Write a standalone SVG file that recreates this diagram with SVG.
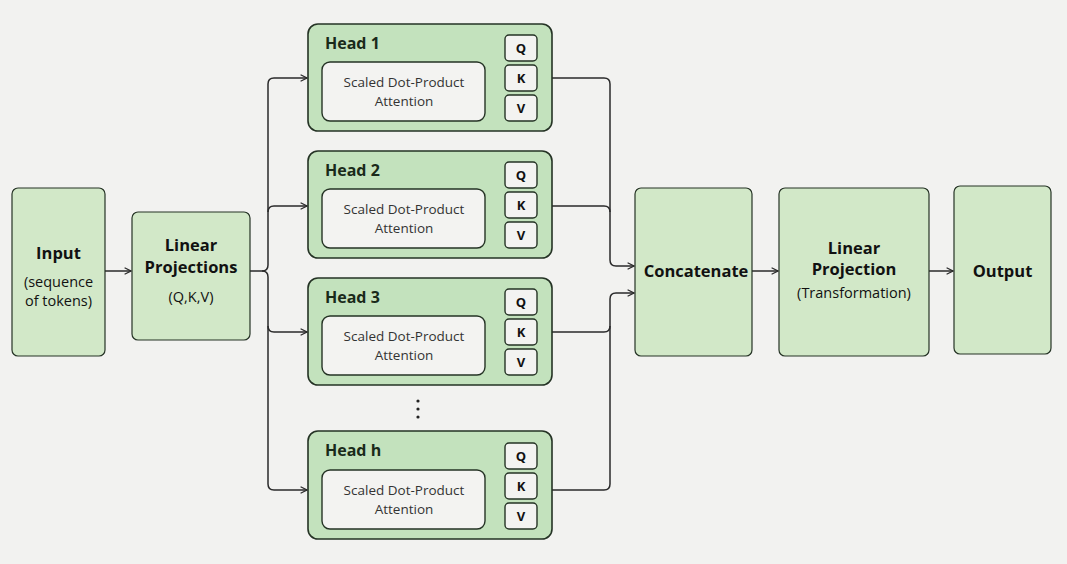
<svg xmlns="http://www.w3.org/2000/svg" width="1067" height="564" viewBox="0 0 1067 564">
<defs>
<style>
.b{fill:#d2e8c8;stroke:#253325;stroke-width:1.2}
.h{fill:#c3e2bd;stroke:#253325;stroke-width:1.6}
.in{fill:#f3f3f1;stroke:#253325;stroke-width:1.4}
.q{fill:#f3f3f1;stroke:#253325;stroke-width:1.4}
text{font-family:"Open Sans","Noto Sans",sans-serif;fill:#111;text-anchor:middle}
.t{font-size:16.5px;font-weight:bold}
.s{font-size:14.5px}
.ht{font-size:16px;font-weight:bold;text-anchor:start;fill:#1a2a1a}
.a{font-size:13.5px;fill:#333}
.k{font-size:13px;font-weight:bold}
.c{fill:none;stroke:#2a2a2a;stroke-width:1.5}
</style>
<marker id="ar" viewBox="0 0 10 10" refX="9" refY="5" markerWidth="8" markerHeight="8" orient="auto" markerUnits="userSpaceOnUse"><path d="M1,1 L9,5 L1,9" fill="none" stroke="#2a2a2a" stroke-width="1.5"/></marker>
<g id="hd">
<rect class="in" x="14" y="38" width="163" height="59" rx="8"/>
<text class="a" x="96" y="63">Scaled Dot-Product</text>
<text class="a" x="96" y="82">Attention</text>
<rect class="q" x="197" y="11" width="32" height="26" rx="4"/><text class="k" x="213" y="29">Q</text>
<rect class="q" x="197" y="41" width="32" height="26" rx="4"/><text class="k" x="213" y="59">K</text>
<rect class="q" x="197" y="71" width="32" height="26" rx="4"/><text class="k" x="213" y="89">V</text>
</g>
</defs>
<rect width="1067" height="564" fill="#f2f2f0"/>
<g id="connectors">
<path class="c" d="M105,271 H131" marker-end="url(#ar)"/>
<path class="c" d="M250,271 H262 Q268,271 268,265 V84 Q268,78 274,78 H307" marker-end="url(#ar)"/>
<path class="c" d="M268,212 Q268,206 274,206 H307" marker-end="url(#ar)"/>
<path class="c" d="M262,271 Q268,271 268,277 V326 Q268,332 274,332 H307" marker-end="url(#ar)"/>
<path class="c" d="M268,326 V484 Q268,490 274,490 H307" marker-end="url(#ar)"/>
<path class="c" d="M552,78 H604 Q610,78 610,84 V260 Q610,266 616,266 H634" marker-end="url(#ar)"/>
<path class="c" d="M552,206 H604 Q610,206 610,212"/>
<path class="c" d="M552,490 H604 Q610,490 610,484 V299 Q610,293 616,293 H634" marker-end="url(#ar)"/>
<path class="c" d="M552,332 H604 Q610,332 610,326"/>
<path class="c" d="M752,271 H778" marker-end="url(#ar)"/>
<path class="c" d="M929,271 H953" marker-end="url(#ar)"/>
</g>
<g id="input"><rect class="b" x="12" y="188" width="93" height="168" rx="6"/>
<text class="t" x="58.5" y="259">Input</text><text class="s" x="58.5" y="287">(sequence</text><text class="s" x="58.5" y="306">of tokens)</text></g>
<g id="linproj"><rect class="b" x="132" y="212" width="118" height="128" rx="6"/>
<text class="t" x="191" y="251">Linear</text><text class="t" x="191" y="273">Projections</text><text class="s" x="191" y="302">(Q,K,V)</text></g>
<g id="head1"><rect class="h" x="308" y="24" width="244" height="107" rx="10"/><text class="ht" x="325" y="49">Head 1</text><use href="#hd" x="308" y="24"/></g>
<g id="head2"><rect class="h" x="308" y="151" width="244" height="107" rx="10"/><text class="ht" x="325" y="176">Head 2</text><use href="#hd" x="308" y="151"/></g>
<g id="head3"><rect class="h" x="308" y="278" width="244" height="107" rx="10"/><text class="ht" x="325" y="303">Head 3</text><use href="#hd" x="308" y="278"/></g>
<g id="dots"><circle cx="418" cy="401" r="1.6" fill="#222"/><circle cx="418" cy="409" r="1.6" fill="#222"/><circle cx="418" cy="417" r="1.6" fill="#222"/></g>
<g id="headh"><rect class="h" x="308" y="431" width="244" height="108" rx="10"/><text class="ht" x="325" y="456">Head h</text><use href="#hd" x="308" y="432"/></g>
<g id="concat"><rect class="b" x="635" y="188" width="117" height="168" rx="6"/><text class="t" x="696" y="277">Concatenate</text></g>
<g id="linproj2"><rect class="b" x="779" y="188" width="150" height="168" rx="6"/>
<text class="t" x="854" y="254">Linear</text><text class="t" x="854" y="275">Projection</text><text class="s" x="854" y="298">(Transformation)</text></g>
<g id="output"><rect class="b" x="954" y="186" width="97" height="168" rx="6"/><text class="t" x="1002.5" y="277">Output</text></g>
</svg>
